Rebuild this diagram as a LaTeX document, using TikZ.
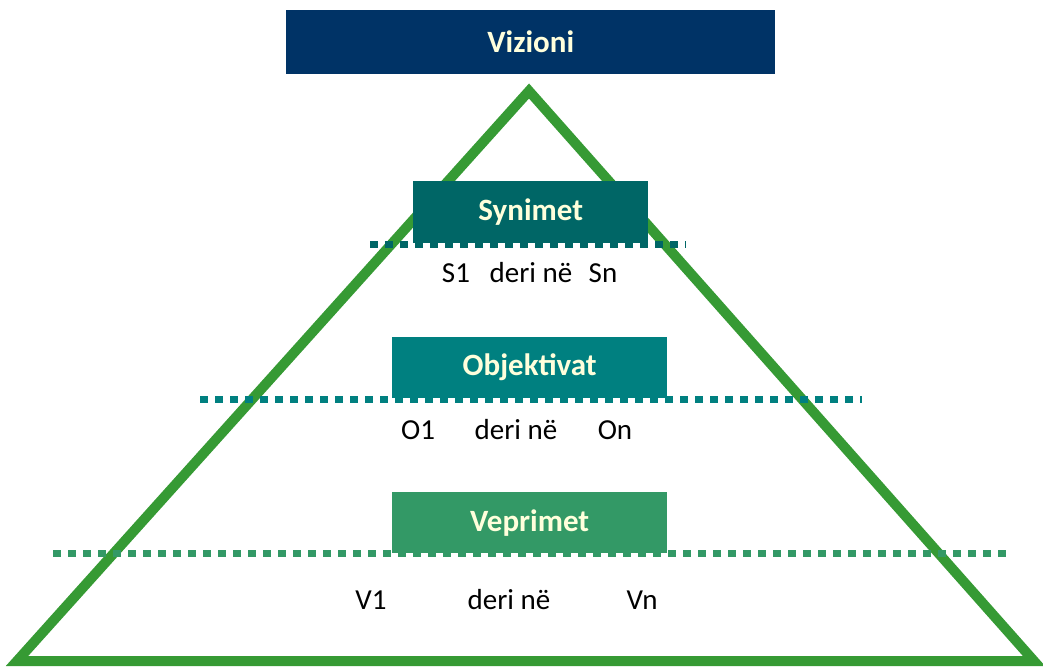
\documentclass[tikz,border=0pt]{standalone}
\usepackage{fontspec}
\setmainfont{Carlito}
\definecolor{navy}{RGB}{0,51,102}
\definecolor{tealdark}{RGB}{0,102,102}
\definecolor{tealmid}{RGB}{0,128,128}
\definecolor{seagreen}{RGB}{51,153,102}
\definecolor{trigreen}{RGB}{54,154,52}
\definecolor{cream}{RGB}{255,255,220}
\begin{document}
\begin{tikzpicture}[x=1pt,y=-1pt,
  box/.style={rectangle, inner sep=0pt, anchor=north west, text=cream,
    font=\fontsize{31}{33}\selectfont\bfseries},
  body/.style={inner sep=0pt, text=black, font=\fontsize{29}{31}\selectfont},
  dots/.style={line width=7pt, dash pattern=on 8pt off 7pt},
  tri/.style={draw=trigreen, line width=10pt, line join=miter}]
\useasboundingbox (0,0) rectangle (1043,667);
% triangle
\coordinate (apex) at (529,91);
\coordinate (bl) at (17,661);
\coordinate (br) at (1034,661);
\draw[tri] (apex) -- (bl) -- (br) -- cycle;
% boxes
\node[box, fill=navy, minimum width=489pt, minimum height=64pt] (viz) at (286,10) {Vizioni};
\node[box, fill=tealdark, minimum width=235pt, minimum height=62pt] (syn) at (413,181) {Synimet};
\node[box, fill=tealmid, minimum width=275pt, minimum height=61pt] (obj) at (392,337) {Objektivat};
\node[box, fill=seagreen, minimum width=275pt, minimum height=61pt] (vep) at (392,492) {Veprimet};
% dotted lines
\coordinate (s1) at (370,244); \coordinate (s2) at (686,244);
\coordinate (o1) at (200,399); \coordinate (o2) at (862,399);
\coordinate (v1) at (53,553); \coordinate (v2) at (1008,553);
\draw[dots, draw=tealdark] (s1) -- (s2);
\draw[dots, draw=tealmid] (o1) -- (o2);
\draw[dots, draw=seagreen] (v1) -- (v2);
% texts
\node[body] (ts1) at (456,273) {S1};
\node[body] (tsd) at (531,273) {deri në};
\node[body] (tsn) at (603,273) {Sn};
\node[body] (to1) at (418,430) {O1};
\node[body] (tod) at (516,430) {deri në};
\node[body] (ton) at (615,430) {On};
\node[body] (tv1) at (371,600) {V1};
\node[body] (tvd) at (509,600) {deri në};
\node[body] (tvn) at (642,600) {Vn};
\end{tikzpicture}
\end{document}
